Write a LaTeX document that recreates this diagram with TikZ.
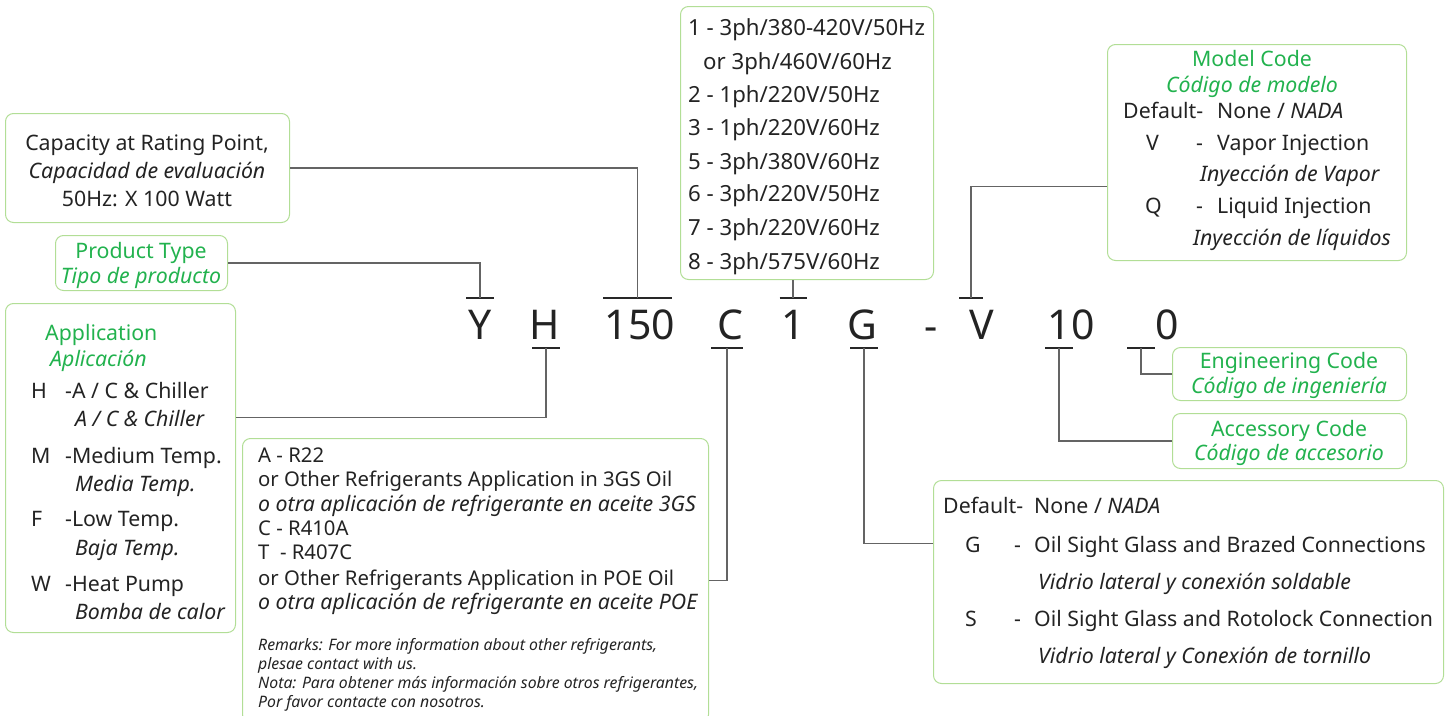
\documentclass[tikz,border=0pt]{standalone}
\usepackage{fontspec}
\setmainfont{Noto Sans}
\definecolor{tgreen}{RGB}{34,178,78}
\definecolor{bgreen}{RGB}{178,222,150}
\definecolor{txt}{RGB}{35,35,35}
\definecolor{lnc}{RGB}{100,100,100}
\definecolor{tkc}{RGB}{40,40,40}
\tikzset{
  box/.style={draw=bgreen, line width=1pt, rounded corners=8pt, anchor=north west, inner sep=0pt},
  conn/.style={draw=lnc, line width=1.2pt},
  tick/.style={draw=tkc, line width=1.3pt},
  tx/.style={inner sep=0pt, anchor=west, text=txt, font=\fontsize{21.3}{25}\selectfont, text height=0.72em, text depth=0.22em, yshift=-5.5pt},
  txc/.style={tx, anchor=center},
  vx/.style={tx, font=\fontsize{22.2}{26}\selectfont},
  rx/.style={tx, font=\fontsize{20.3}{24}\selectfont},
  gr/.style={text=tgreen},
  big/.style={inner sep=0pt, anchor=center, text=txt, font=\fontsize{41}{45}\selectfont},
  small/.style={tx, font=\fontsize{15.8}{18}\selectfont\itshape},
}
\begin{document}
\begin{tikzpicture}[x=1pt,y=-1pt]
\useasboundingbox (0,0) rectangle (1456,715);

% ---------- boxes ----------
\node[box, minimum width=284, minimum height=109] (cap) at (5,113) {};
\node[box, minimum width=172, minimum height=55] (ptype) at (55,235) {};
\node[box, minimum width=230, minimum height=329] (app) at (5,303) {};
\node[box, minimum width=466, minimum height=284] (ref) at (242,438) {};
\node[box, minimum width=253, minimum height=273] (volt) at (680,6) {};
\node[box, minimum width=299, minimum height=216] (model) at (1107,44) {};
\node[box, minimum width=234, minimum height=53] (eng) at (1172,347) {};
\node[box, minimum width=234, minimum height=55] (acc) at (1172,413) {};
\node[box, minimum width=510, minimum height=203] (gbox) at (933,480) {};

% ---------- code letters ----------
\node[big] (cY) at (480,325) {Y};
\node[big] (cH) at (545,325) {H};
\node[big] (c150) at (640,325) {150};
\node[big] (cC) at (730,325) {C};
\node[big] (c1) at (793,325) {1};
\node[big] (cG) at (862,325) {G};
\node[big] (cDash) at (931,334) {-};
\node[big] (cV) at (982,325) {V};
\node[big] (c10) at (1071,325) {10};
\node[big] (c0) at (1167,325) {0};

% ---------- ticks ----------
\coordinate (tY) at (480,298);
\coordinate (t150) at (637.5,298);
\coordinate (t1) at (793,298);
\coordinate (tV) at (971,298);
\coordinate (tH) at (546,348);
\coordinate (tC) at (727,348);
\coordinate (tG) at (864,348);
\coordinate (t10) at (1059,348);
\coordinate (t0) at (1141,348);
\draw[tick] ([xshift=-14pt]tY) -- ([xshift=14pt]tY);
\draw[tick] ([xshift=-34.5pt]t150) -- ([xshift=34.5pt]t150);
\draw[tick] ([xshift=-13.5pt]t1) -- ([xshift=13.5pt]t1);
\draw[tick] ([xshift=-12pt]tV) -- ([xshift=12pt]tV);
\draw[tick] ([xshift=-14pt]tH) -- ([xshift=14pt]tH);
\draw[tick] ([xshift=-16pt]tC) -- ([xshift=16pt]tC);
\draw[tick] ([xshift=-14pt]tG) -- ([xshift=14pt]tG);
\draw[tick] ([xshift=-14pt]t10) -- ([xshift=14pt]t10);
\draw[tick] ([xshift=-14pt]t0) -- ([xshift=14pt]t0);

% ---------- connectors ----------
\draw[conn] (cap.east) -| (t150);
\draw[conn] (ptype.east) -| (tY);
\draw[conn] ([yshift=50.5pt]app.east) -| (tH);
\draw[conn] (ref.east) -| (tC);
\draw[conn] (t1 |- volt.south) -- (t1);
\draw[conn] ([yshift=-34pt]model.west) -| (tV);
\draw[conn] (eng.west) -| (t0);
\draw[conn] (acc.west) -| (t10);
\draw[conn] ([yshift=38.5pt]gbox.west) -| (tG);

% ---------- capacity ----------
\node[txc] (cap1) at (147,142) {Capacity at Rating Point,};
\node[txc] (cap2) at (147,170) {\itshape Capacidad de evaluación};
\node[txc] (cap3) at (147,198) {50Hz: X 100 Watt};

% ---------- product type ----------
\node[txc, gr] (pt1) at (141,250) {Product Type};
\node[txc, gr] (pt2) at (141,275) {\itshape Tipo de producto};

% ---------- application ----------
\node[tx, gr] (ap1) at (45,332) {Application};
\node[tx, gr] (ap2) at (50,358) {\itshape Aplicación};
\node[tx] (apH) at (31,390) {H};
\node[tx] (apH1) at (65,390) {-A / C \& Chiller};
\node[tx] (apH2) at (75,418) {\itshape A / C \& Chiller};
\node[tx] (apM) at (31,455) {M};
\node[tx] (apM1) at (65,455) {-Medium Temp.};
\node[tx] (apM2) at (75,483) {\itshape Media Temp.};
\node[tx] (apF) at (31,518) {F};
\node[tx] (apF1) at (65,518) {-Low Temp.};
\node[tx] (apF2) at (75,547) {\itshape Baja Temp.};
\node[tx] (apW) at (31,583) {W};
\node[tx] (apW1) at (65,583) {-Heat Pump};
\node[tx] (apW2) at (75,611) {\itshape Bomba de calor};

% ---------- refrigerant ----------
\node[rx] (r1) at (258,454) {A - R22};
\node[rx] (r2) at (258,478) {or Other Refrigerants Application in 3GS Oil};
\node[tx] (r3) at (258,503) {\itshape o otra aplicación de refrigerante en aceite 3GS};
\node[rx] (r4) at (258,527) {C - R410A};
\node[rx] (r5) at (258,551) {T\ \ - R407C};
\node[rx] (r6) at (258,577) {or Other Refrigerants Application in POE Oil};
\node[tx] (r7) at (258,601) {\itshape o otra aplicación de refrigerante en aceite POE};
\node[small] (rm1) at (258,642) {Remarks: For more information about other refrigerants,};
\node[small] (rm2) at (258,661) {plesae contact with us.};
\node[small] (rm3) at (258,680) {Nota: Para obtener más información sobre otros refrigerantes,};
\node[small] (rm4) at (258,699) {Por favor contacte con nosotros.};

% ---------- voltage ----------
\node[vx] (v1) at (688,27) {1 - 3ph/380-420V/50Hz};
\node[vx] (v1b) at (703,61) {or 3ph/460V/60Hz};
\node[vx] (v2) at (688,94) {2 - 1ph/220V/50Hz};
\node[vx] (v3) at (688,127) {3 - 1ph/220V/60Hz};
\node[vx] (v5) at (688,161) {5 - 3ph/380V/60Hz};
\node[vx] (v6) at (688,193) {6 - 3ph/220V/50Hz};
\node[vx] (v7) at (688,227) {7 - 3ph/220V/60Hz};
\node[vx] (v8) at (688,261) {8 - 3ph/575V/60Hz};

% ---------- model code ----------
\node[txc, gr] (m1) at (1252,58) {Model Code};
\node[txc, gr] (m2) at (1252,84) {\itshape Código de modelo};
\node[tx] (m3) at (1123,110) {Default-};
\node[tx] (m3b) at (1217,110) {None / \textit{NADA}};
\node[tx] (m4) at (1146,142) {V};
\node[tx] (m4d) at (1196,142) {-};
\node[tx] (m4b) at (1217,142) {Vapor Injection};
\node[tx] (m5) at (1200,173) {\itshape Inyección de Vapor};
\node[tx] (m6) at (1145,205) {Q};
\node[tx] (m6d) at (1196,205) {-};
\node[tx] (m6b) at (1217,205) {Liquid Injection};
\node[tx] (m7) at (1193,237) {\itshape Inyección de líquidos};

% ---------- engineering / accessory ----------
\node[txc, gr] (e1) at (1289,360) {Engineering Code};
\node[txc, gr] (e2) at (1289,385) {\itshape Código de ingeniería};
\node[txc, gr] (a1) at (1289,428) {Accessory Code};
\node[txc, gr] (a2) at (1289,452) {\itshape Código de accesorio};

% ---------- G options ----------
\node[tx] (g1) at (943,505) {Default-};
\node[tx] (g1b) at (1034,505) {None / \textit{NADA}};
\node[tx] (g2) at (965,544) {G};
\node[tx] (g2d) at (1014,544) {-};
\node[tx] (g2b) at (1034,544) {Oil Sight Glass and Brazed Connections};
\node[tx] (g3) at (1038,581) {\itshape Vidrio lateral y conexión soldable};
\node[tx] (g4) at (965,618) {S};
\node[tx] (g4d) at (1014,618) {-};
\node[tx] (g4b) at (1034,618) {Oil Sight Glass and Rotolock Connection};
\node[tx] (g5) at (1038,655) {\itshape Vidrio lateral y Conexión de tornillo};
\end{tikzpicture}
\end{document}
